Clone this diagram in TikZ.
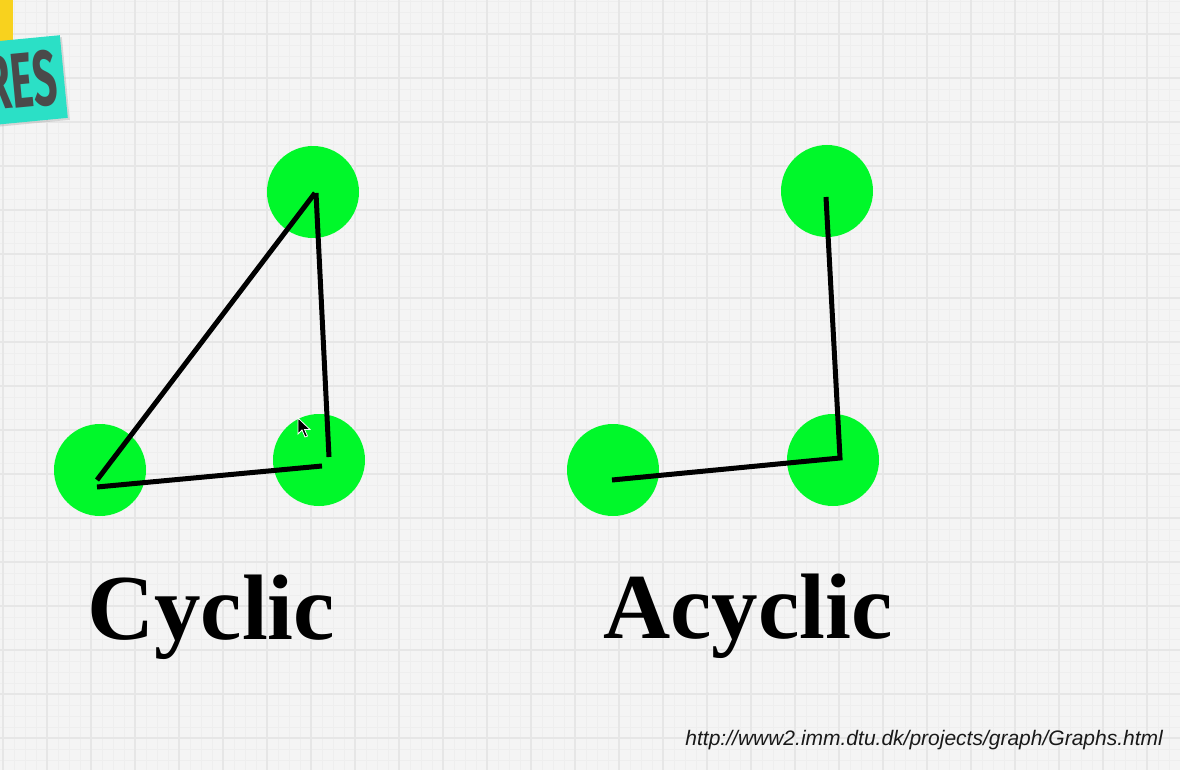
\documentclass[tikz,border=0pt]{standalone}
\usepackage{fontspec}
\setmainfont{Liberation Serif}
\newfontfamily\urlfont{Liberation Sans}
\newfontfamily\tagfont[FakeStretch=0.54]{Fira Sans}
\definecolor{paperGray}{HTML}{F4F4F4}
\definecolor{gridMajor}{HTML}{E6E6E6}
\definecolor{gridMinor}{HTML}{EEEEEE}
\definecolor{nodeGreen}{HTML}{00F82A}
\definecolor{tagTeal}{HTML}{2BE0C6}
\definecolor{tagYellow}{HTML}{F8D21E}
\definecolor{tagInk}{HTML}{4A4A4A}
\usetikzlibrary{positioning, shadows}

\begin{document}
\begin{tikzpicture}[
    x=1pt, y=-1pt,
    vertex/.style={circle, fill=nodeGreen, minimum size=92pt, inner sep=0pt},
    edge/.style={line width=5pt, black, line join=miter},
    title/.style={anchor=base west, inner sep=0pt, font=\fontsize{93}{100}\selectfont\bfseries},
    tag/.style={rectangle, fill=tagTeal, rotate=5.5, anchor=east, minimum height=83pt, text width=150pt, align=right, inner xsep=7pt, font=\tagfont\fontsize{78}{78}\selectfont\bfseries\color{tagInk}, drop shadow={shadow xshift=2pt, shadow yshift=-2pt, opacity=0.25}}
]
\useasboundingbox (0,0) rectangle (1180,770);
\clip (0,0) rectangle (1180,770);

% paper and grid
\fill[paperGray] (0,0) rectangle (1180,770);
\foreach \x in {3,14,...,1180} \draw[gridMinor, line width=0.4pt] (\x,0) -- (\x,770);
\foreach \y in {1,12,...,770} \draw[gridMinor, line width=0.4pt] (0,\y) -- (1180,\y);
\foreach \x in {3,47,...,1180} \draw[gridMajor, line width=1.3pt] (\x,0) -- (\x,770);
\foreach \y in {34,78,...,770} \draw[gridMajor, line width=1.3pt] (0,\y) -- (1180,\y);

% sticker
\fill[tagYellow] (-20,-5) rectangle (13,50);
\node[tag] (sticker) at (64,76.5) {RES};

% cyclic graph
\node[vertex] (ca) at (100,470) {};
\node[vertex] (cb) at (313,192) {};
\node[vertex] (cc) at (319,460) {};
\draw[edge] ([shift={(-3,10)}]ca.center) -- ([shift={(2,1)}]cb.center);
\draw[edge] ([shift={(3,1)}]cb.center) -- ([shift={(10,-3)}]cc.center);
\draw[edge] ([shift={(-3,17)}]ca.center) -- ([shift={(3,6)}]cc.center);

% acyclic graph
\node[vertex] (ad) at (613,470) {};
\node[vertex] (ae) at (827,191) {};
\node[vertex] (af) at (833,460) {};
\draw[edge] ([shift={(-1,10)}]ad.center) -- ([shift={(7,-2)}]af.center) -- ([shift={(-1,6)}]ae.center);

% mouse pointer
\fill[black, draw=white, line width=0.8pt] (298,418) -- ++(0,16) -- ++(4,-4) -- ++(3,7) -- ++(2.5,-1) -- ++(-3,-6.5) -- ++(5.5,0) -- cycle;

% labels
\node[title] (cyc) at (87,639) {Cyclic};
\node[title] (acyc) at (603,638) {Acyclic};
\node[anchor=base east, inner sep=0pt, font=\urlfont\itshape\fontsize{21}{24}\selectfont, text=black!90] (src) at (1163,745) {http://www2.imm.dtu.dk/projects/graph/Graphs.html};
\end{tikzpicture}
\end{document}
